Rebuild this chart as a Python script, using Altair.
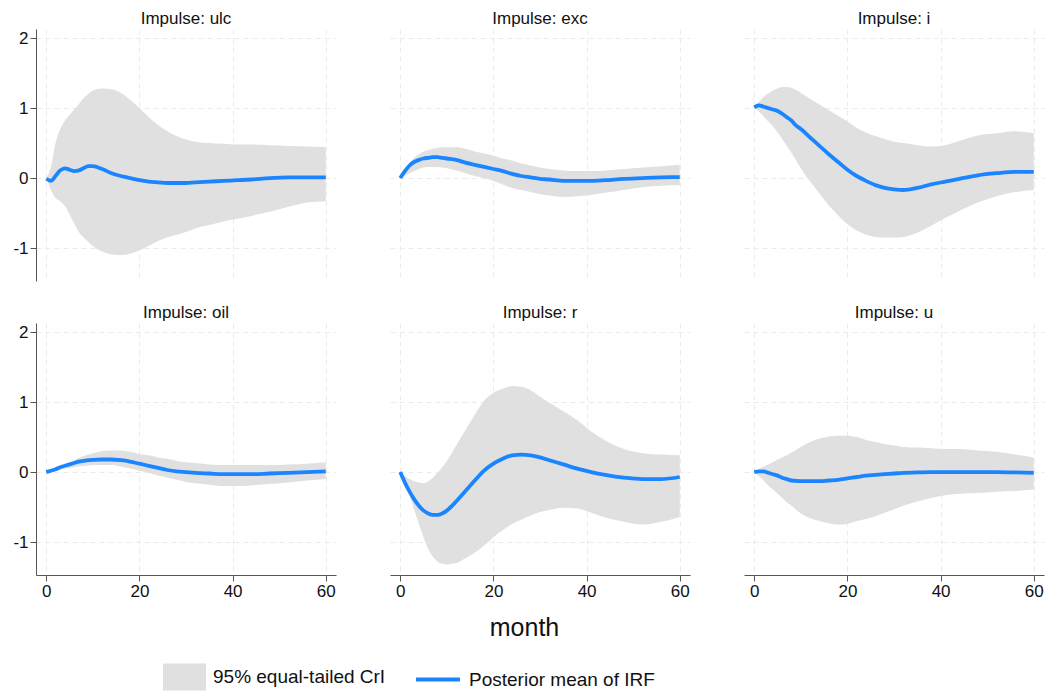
import altair as alt
import pandas as pd

months = [0, 1, 2, 3, 4, 5, 6, 7, 8, 9, 10, 12, 14, 16, 18, 20, 22, 24, 26, 28,
          30, 32, 35, 38, 41, 44, 48, 52, 56, 60]

impulses = ["ulc", "exc", "i", "oil", "r", "u"]

ulc_mean = [-0.01, -0.04, 0.03, 0.11, 0.14, 0.12, 0.10, 0.11, 0.14, 0.17, 0.17, 0.13, 0.07, 0.03, 0.0,
            -0.03, -0.05, -0.06, -0.07, -0.07, -0.07, -0.06, -0.05, -0.04, -0.03, -0.02, 0.0, 0.01, 0.01, 0.01]
ulc_hi = [0.0, 0.15, 0.5, 0.7, 0.82, 0.9, 0.98, 1.06, 1.14, 1.2, 1.25, 1.28, 1.27, 1.22, 1.12,
          1.0, 0.87, 0.76, 0.67, 0.6, 0.55, 0.52, 0.5, 0.49, 0.48, 0.48, 0.47, 0.46, 0.45, 0.44]
ulc_lo = [0.0, -0.17, -0.28, -0.33, -0.4, -0.52, -0.65, -0.77, -0.85, -0.91, -0.97, -1.05, -1.09, -1.1, -1.08,
          -1.03, -0.97, -0.9, -0.85, -0.81, -0.77, -0.72, -0.67, -0.62, -0.58, -0.54, -0.48, -0.41, -0.35, -0.33]

exc_mean = [0.0, 0.1, 0.18, 0.23, 0.26, 0.28, 0.29, 0.3, 0.3, 0.29, 0.28, 0.26, 0.22, 0.19, 0.16,
            0.13, 0.1, 0.06, 0.03, 0.01, -0.01, -0.02, -0.04, -0.04, -0.04, -0.03, -0.01, 0.0, 0.01, 0.015]
exc_hi = [0.0, 0.12, 0.22, 0.29, 0.34, 0.38, 0.4, 0.42, 0.43, 0.44, 0.44, 0.44, 0.42, 0.38, 0.35,
          0.32, 0.28, 0.25, 0.21, 0.18, 0.15, 0.13, 0.11, 0.1, 0.1, 0.11, 0.13, 0.15, 0.17, 0.19]
exc_lo = [0.0, 0.04, 0.07, 0.1, 0.13, 0.15, 0.16, 0.16, 0.16, 0.15, 0.14, 0.11, 0.07, 0.03, 0.0,
          -0.04, -0.09, -0.14, -0.17, -0.2, -0.23, -0.25, -0.27, -0.26, -0.24, -0.21, -0.17, -0.13, -0.11, -0.1]

i_mean = [1.01, 1.04, 1.02, 1.0, 0.98, 0.96, 0.92, 0.87, 0.82, 0.75, 0.7, 0.58, 0.46, 0.34, 0.23,
          0.12, 0.03, -0.04, -0.1, -0.14, -0.16, -0.17, -0.14, -0.09, -0.05, -0.01, 0.04, 0.07, 0.09, 0.09]
i_hi = [1.03, 1.09, 1.16, 1.21, 1.25, 1.28, 1.3, 1.3, 1.29, 1.26, 1.22, 1.13, 1.05, 0.97, 0.89,
        0.81, 0.72, 0.65, 0.6, 0.56, 0.52, 0.5, 0.47, 0.45, 0.47, 0.53, 0.61, 0.64, 0.67, 0.64]
i_lo = [1.0, 0.95, 0.88, 0.81, 0.74, 0.65, 0.56, 0.46, 0.36, 0.25, 0.14, -0.05, -0.22, -0.39, -0.53,
        -0.66, -0.75, -0.81, -0.84, -0.85, -0.85, -0.84, -0.78, -0.68, -0.57, -0.47, -0.35, -0.26, -0.2, -0.17]

oil_mean = [0.0, 0.02, 0.04, 0.07, 0.09, 0.11, 0.13, 0.15, 0.16, 0.17, 0.175, 0.18, 0.18, 0.17, 0.15,
            0.12, 0.09, 0.06, 0.03, 0.01, 0.0, -0.01, -0.02, -0.03, -0.03, -0.03, -0.02, -0.01, 0.0, 0.01]
oil_hi = [0.0, 0.03, 0.06, 0.09, 0.11, 0.14, 0.17, 0.2, 0.23, 0.25, 0.27, 0.3, 0.31, 0.31, 0.29,
          0.26, 0.24, 0.21, 0.19, 0.16, 0.14, 0.13, 0.11, 0.1, 0.1, 0.1, 0.1, 0.11, 0.12, 0.14]
oil_lo = [0.0, 0.01, 0.03, 0.04, 0.05, 0.06, 0.07, 0.08, 0.09, 0.095, 0.1, 0.1, 0.1, 0.08, 0.05,
          0.02, -0.01, -0.05, -0.08, -0.11, -0.14, -0.16, -0.18, -0.2, -0.2, -0.19, -0.17, -0.15, -0.12, -0.1]

r_mean = [0.0, -0.15, -0.28, -0.39, -0.48, -0.55, -0.59, -0.61, -0.61, -0.59, -0.55, -0.42, -0.27, -0.12, 0.02,
          0.12, 0.19, 0.24, 0.25, 0.24, 0.21, 0.17, 0.11, 0.05, 0.0, -0.04, -0.08, -0.1, -0.1, -0.07]
r_hi = [0.0, -0.06, -0.1, -0.13, -0.15, -0.16, -0.13, -0.08, -0.01, 0.07, 0.16, 0.38, 0.6, 0.82, 1.02,
        1.13, 1.19, 1.23, 1.22, 1.17, 1.08, 0.99, 0.87, 0.74, 0.58, 0.45, 0.33, 0.27, 0.25, 0.24]
r_lo = [0.0, -0.17, -0.33, -0.54, -0.74, -0.93, -1.1, -1.21, -1.28, -1.31, -1.32, -1.3, -1.23, -1.15, -1.05,
        -0.93, -0.83, -0.74, -0.68, -0.62, -0.57, -0.54, -0.51, -0.52, -0.58, -0.65, -0.71, -0.75, -0.71, -0.64]

u_mean = [0.0, 0.01, 0.01, -0.01, -0.03, -0.05, -0.08, -0.1, -0.12, -0.125, -0.13, -0.13, -0.13, -0.12, -0.11,
          -0.09, -0.07, -0.05, -0.04, -0.03, -0.02, -0.01, -0.005, 0.0, 0.0, 0.0, 0.0, 0.0, -0.005, -0.01]
u_hi = [0.0, 0.04, 0.08, 0.11, 0.14, 0.18, 0.21, 0.24, 0.28, 0.32, 0.36, 0.43, 0.48, 0.51, 0.52,
        0.52, 0.5, 0.46, 0.43, 0.4, 0.38, 0.36, 0.35, 0.34, 0.33, 0.33, 0.31, 0.29, 0.25, 0.21]
u_lo = [0.0, -0.06, -0.12, -0.19, -0.25, -0.31, -0.37, -0.43, -0.48, -0.54, -0.59, -0.66, -0.7, -0.73, -0.75,
        -0.74, -0.7, -0.67, -0.63, -0.58, -0.53, -0.48, -0.42, -0.37, -0.33, -0.31, -0.3, -0.28, -0.27, -0.25]

series = {
    "ulc": (ulc_lo, ulc_mean, ulc_hi),
    "exc": (exc_lo, exc_mean, exc_hi),
    "i": (i_lo, i_mean, i_hi),
    "oil": (oil_lo, oil_mean, oil_hi),
    "r": (r_lo, r_mean, r_hi),
    "u": (u_lo, u_mean, u_hi),
}

x_ticks = [0, 20, 40, 60]
y_ticks = [-1, 0, 1, 2]
BAND_LABEL = "95% equal-tailed CrI"
MEAN_LABEL = "Posterior mean of IRF"

FONT = "Liberation Sans"
AXIS_COLOR = "#555555"
GRID_COLOR = "#ebebeb"
TEXT_COLOR = "#111111"
BAND_COLOR = "#e0e0e0"
LINE_COLOR = "#1a85ff"

x_scale = alt.Scale(domain=[-2.2, 62.2], nice=False, zero=False)
y_scale = alt.Scale(domain=[-1.47, 2.13], nice=False, zero=False)


def panel(name, col, row):
    lo, mean, hi = series[name]
    df = pd.DataFrame({"month": months, "lo": lo, "mean": mean, "hi": hi,
                       "band": BAND_LABEL, "est": MEAN_LABEL})
    show_x = row == 1
    show_y = col == 0
    xkw = dict(values=x_ticks, grid=True, gridColor=GRID_COLOR, gridDash=[5, 4], gridWidth=1,
               labels=show_x, ticks=show_x, domain=show_x, labelFontSize=17, labelFont=FONT,
               labelColor=TEXT_COLOR, tickSize=6, tickColor=AXIS_COLOR, domainColor=AXIS_COLOR,
               labelPadding=2, labelExpr="datum.value + ''", labelFlush=False)
    if row == 1 and col == 1:
        xkw.update(title="month", titleFontSize=25, titleFont=FONT, titleFontWeight="normal",
                   titleX=134, titleY=60, titleBaseline="alphabetic", titleAlign="center",
                   titleColor=TEXT_COLOR)
    else:
        xkw["title"] = None
    ykw = dict(values=y_ticks, grid=True, gridColor=GRID_COLOR, gridDash=[5, 4], gridWidth=1,
               labels=show_y, ticks=show_y, domain=show_y, labelFontSize=17, labelFont=FONT,
               labelColor=TEXT_COLOR, tickSize=6, tickColor=AXIS_COLOR, domainColor=AXIS_COLOR,
               labelPadding=2, labelExpr="datum.value + ''", title=None, labelFlush=False)
    x = alt.X("month:Q", scale=x_scale, axis=alt.Axis(**xkw))
    base = alt.Chart(df)
    area = base.mark_area(interpolate="monotone", opacity=1).encode(
        x=x,
        y=alt.Y("lo:Q", scale=y_scale, axis=alt.Axis(**ykw)),
        y2="hi:Q",
        fill=alt.Fill("band:N", scale=alt.Scale(domain=[BAND_LABEL], range=[BAND_COLOR]),
                      legend=alt.Legend(title=None, orient="none", legendX=127, legendY=626.5,
                                        symbolType="M-1,-0.628L1,-0.628L1,0.628L-1,0.628Z",
                                        symbolSize=1849, symbolStrokeWidth=0, labelFontSize=19,
                                        labelFont=FONT, labelColor=TEXT_COLOR, labelOffset=7,
                                        labelLimit=0, padding=0)),
    )
    line = base.mark_line(interpolate="monotone", strokeWidth=3.8).encode(
        x=x,
        y=alt.Y("mean:Q", scale=y_scale),
        stroke=alt.Stroke("est:N", scale=alt.Scale(domain=[MEAN_LABEL], range=[LINE_COLOR]),
                          legend=alt.Legend(title=None, orient="none", legendX=378, legendY=626.5,
                                            symbolType="stroke", symbolSize=1936,
                                            symbolStrokeWidth=4, labelFontSize=19,
                                            labelFont=FONT, labelColor=TEXT_COLOR,
                                            labelOffset=7, labelLimit=0, padding=0)),
    )
    return alt.layer(area, line).properties(
        width=300, height=252,
        title=alt.TitleParams("Impulse: " + name, fontSize=17, font=FONT, fontWeight="normal",
                              color=TEXT_COLOR, baseline="alphabetic", offset=-12,
                              anchor="middle", frame="group"),
    )


row1 = alt.hconcat(*[panel(n, c, 0) for c, n in enumerate(impulses[:3])], spacing=54)
row2 = alt.hconcat(*[panel(n, c, 1) for c, n in enumerate(impulses[3:])], spacing=54)

chart = alt.vconcat(row1, row2, spacing=23).properties(
    padding={"left": 12, "top": 10, "right": 5, "bottom": 4},
    background="white",
).configure_view(stroke=None)

chart.save("out.html", embed_options={"renderer": "svg", "actions": False})
